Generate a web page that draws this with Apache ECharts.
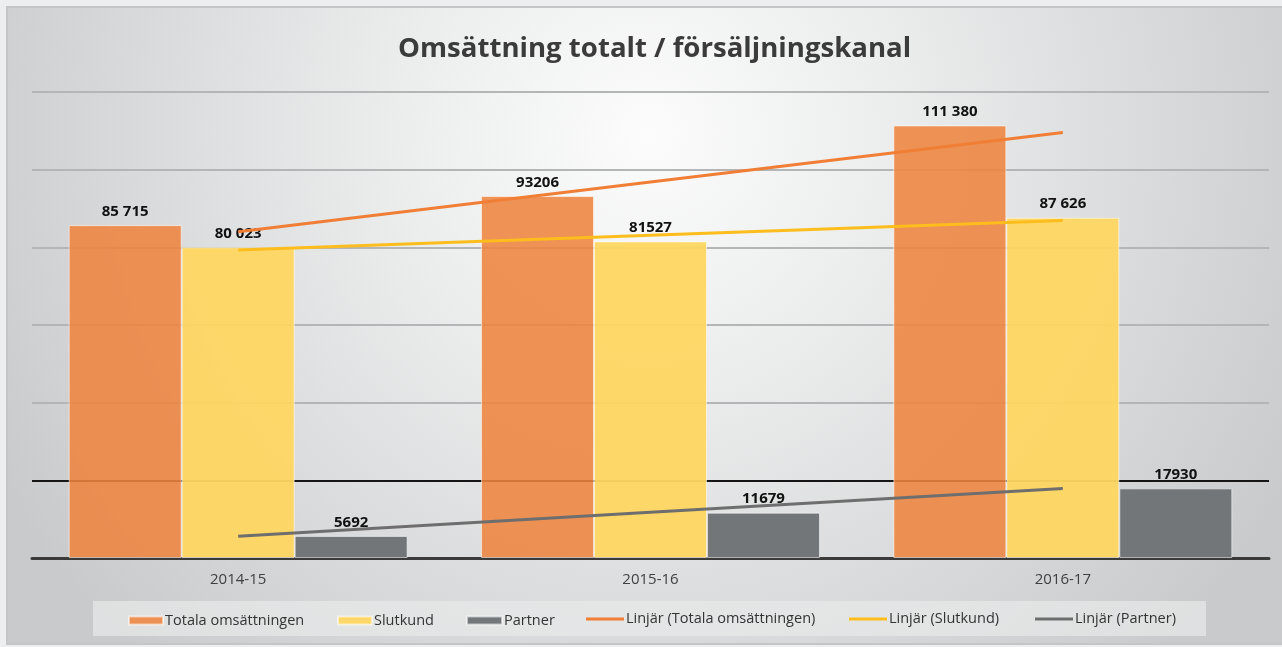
<!DOCTYPE html>
<html><head><meta charset="utf-8">
<script src="https://cdn.jsdelivr.net/npm/echarts@6/dist/echarts.min.js"></script>
<style>html,body{margin:0;padding:0;background:#eceeef;}#c{width:1282px;height:647px;}</style>
</head><body><div id="c"></div>
<script>
const categories = ['2014-15', '2015-16', '2016-17'];
const totala = [85715, 93206, 111380];
const slutkund = [80023, 81527, 87626];
const partner = [5692, 11679, 17930];
const totalaLabels = ['85 715', '93206', '111 380'];
const slutkundLabels = ['80 023', '81527', '87 626'];
const partnerLabels = ['5692', '11679', '17930'];
// linear trend lines
const totalaTrend = [84000, 96800, 109600];
const slutkundTrend = [79300, 83100, 86900];
const partnerTrend = [5600, 11800, 17900];
const yTicks = [0, 20000, 40000, 60000, 80000, 100000, 120000];

const chart = echarts.init(document.getElementById('c'), null, {renderer: 'canvas'});
const FONT = '"Open Sans", "Liberation Sans", sans-serif';
const lbl = (arr) => ({show: true, position: 'top', distance: 6, color: '#111', fontWeight: 'bold', fontSize: 15, fontFamily: FONT, formatter: p => arr[p.dataIndex]});
const legendItem = (name, left, h, w) => ({data: [name], left: left, top: h === 8 ? 613 : 611.5, itemWidth: w, itemHeight: h, icon: 'rect', padding: 0,
  textStyle: {fontFamily: FONT, fontSize: 14.5, color: '#333', padding: [0, 0, 0, -3]}});

chart.setOption({
  backgroundColor: '#eceeef',
  animation: false,
  graphic: [
    {type: 'rect', z: -10, silent: true, shape: {x: 7, y: 7, width: 1280, height: 637},
     style: {stroke: '#c3c5c6', lineWidth: 2,
       fill: new echarts.graphic.RadialGradient(0.5, 0.2, 1.15, [
         {offset: 0, color: '#fcfcfc'}, {offset: 0.35, color: '#ebecec'}, {offset: 0.75, color: '#d6d7d8'}, {offset: 1, color: '#c8cacb'}])}},
    {type: 'rect', z: -5, silent: true, shape: {x: 93, y: 601, width: 1113, height: 35},
     style: {fill: 'rgba(232,233,234,0.7)'}}
  ],
  title: {text: 'Omsättning totalt / försäljningskanal', left: 393, top: 30,
    textStyle: {fontFamily: FONT, fontWeight: 'bold', fontSize: 27.6, color: '#3b3b3b'}},
  grid: {left: 32, right: 13, top: 92, bottom: 89, containLabel: false},
  legend: [
    legendItem('Totala omsättningen', 128, 8, 34),
    legendItem('Slutkund', 337, 8, 34),
    legendItem('Partner', 466, 8, 35),
    legendItem('Linjär (Totala omsättningen)', 586, 3, 38),
    legendItem('Linjär (Slutkund)', 849, 3, 38),
    legendItem('Linjär (Partner)', 1035, 3, 38)
  ],
  xAxis: {type: 'category', data: categories,
    axisLine: {lineStyle: {color: '#3a3a3a', width: 3}}, axisTick: {show: false},
    axisLabel: {color: '#404040', fontSize: 15, fontFamily: FONT, margin: 14}},
  yAxis: {type: 'value', min: yTicks[0], max: yTicks[yTicks.length - 1], interval: 20000,
    axisLabel: {show: false}, axisLine: {show: false}, axisTick: {show: false},
    splitLine: {lineStyle: {width: 2, color: ['#3a3a3a', '#151515', '#b4b5b6', '#b4b5b6', '#b4b5b6', '#b4b5b6', '#b4b5b6']}}},
  series: [
    {name: 'Totala omsättningen', type: 'bar', data: totala, barGap: '0%', barCategoryGap: '17.8%',
     itemStyle: {color: 'rgba(238,132,64,0.88)', borderColor: 'rgba(255,255,255,0.55)', borderWidth: 1}, label: lbl(totalaLabels)},
    {name: 'Slutkund', type: 'bar', data: slutkund,
     itemStyle: {color: 'rgba(255,214,98,0.95)', borderColor: 'rgba(255,255,255,0.55)', borderWidth: 1}, label: lbl(slutkundLabels)},
    {name: 'Partner', type: 'bar', data: partner,
     itemStyle: {color: 'rgba(112,115,118,0.97)', borderColor: 'rgba(255,255,255,0.55)', borderWidth: 1}, label: lbl(partnerLabels)},
    {name: 'Linjär (Totala omsättningen)', type: 'line', data: totalaTrend, symbol: 'none', color: '#f07f35',
     lineStyle: {width: 3, color: '#f07f35'}, z: 5},
    {name: 'Linjär (Slutkund)', type: 'line', data: slutkundTrend, symbol: 'none', color: '#fdbd1d',
     lineStyle: {width: 3, color: '#fdbd1d'}, z: 5},
    {name: 'Linjär (Partner)', type: 'line', data: partnerTrend, symbol: 'none', color: '#6e6e6e',
     lineStyle: {width: 3, color: '#6e6e6e'}, z: 5}
  ]
});
</script></body></html>
